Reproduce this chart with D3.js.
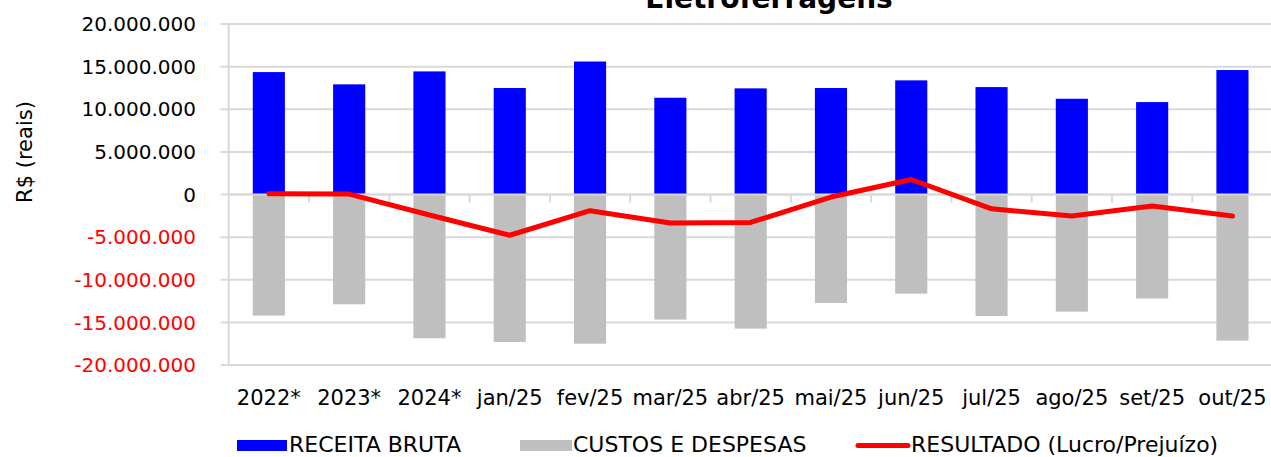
<!DOCTYPE html>
<html>
<head>
<meta charset="utf-8">
<script src="https://cdn.jsdelivr.net/npm/d3@7"></script>
<style>
  body { margin: 0; background: #fff; }
  svg { display: block; font-family: "DejaVu Sans", sans-serif; }
</style>
</head>
<body>
<div id="vis"></div>
<script>
// data (R$)
var categories = ["2022*", "2023*", "2024*", "jan/25", "fev/25", "mar/25", "abr/25",
                  "mai/25", "jun/25", "jul/25", "ago/25", "set/25", "out/25"];
var receita = [14360000, 12920000, 14440000, 12490000, 15600000, 11350000, 12450000,
               12490000, 13390000, 12600000, 11230000, 10840000, 14600000];
var custos = [-14200000, -12880000, -16860000, -17300000, -17500000, -14670000, -15730000,
              -12720000, -11630000, -14250000, -13740000, -12200000, -17140000];
var resultado = [100000, 50000, -2400000, -4780000, -1900000, -3350000, -3270000,
                 -300000, 1760000, -1680000, -2520000, -1360000, -2530000];
var yTicks = [20000000, 15000000, 10000000, 5000000, 0, -5000000, -10000000, -15000000, -20000000];

var w = 1271, h = 457;
var plotLeft = 228.7, plotRight = 1272.6, plotTop = 24, plotBottom = 365;

var svg = d3.select("#vis").append("svg")
    .attr("width", w)
    .attr("height", h);

var x = d3.scaleBand()
    .domain(categories)
    .range([plotLeft, plotRight])
    .paddingInner(0)
    .paddingOuter(0);

var y = d3.scaleLinear()
    .domain([-20000000, 20000000])
    .range([plotBottom, plotTop]);

var br = d3.formatLocale({decimal: ",", thousands: ".", grouping: [3], currency: ["R$", ""], minus: "-"});
var fmt = br.format(",d");

// gridlines
svg.append("g")
    .selectAll("line")
    .data(yTicks)
    .enter()
    .append("line")
    .attr("x1", plotLeft - 8)
    .attr("x2", w)
    .attr("y1", function(d) { return y(d); })
    .attr("y2", function(d) { return y(d); })
    .attr("stroke", "#d9d9d9")
    .attr("stroke-width", 2);

// vertical axis line
svg.append("line")
    .attr("x1", plotLeft).attr("x2", plotLeft)
    .attr("y1", y(20000000)).attr("y2", y(-20000000))
    .attr("stroke", "#d9d9d9")
    .attr("stroke-width", 2);

// y tick labels
svg.append("g")
    .selectAll("text")
    .data(yTicks)
    .enter()
    .append("text")
    .attr("x", 196)
    .attr("y", function(d) { return y(d); })
    .attr("dy", "0.36em")
    .attr("text-anchor", "end")
    .attr("font-size", "20px")
    .attr("fill", function(d) { return d < 0 ? "#ff0000" : "#000"; })
    .text(function(d) { return fmt(d); });

var bw = x.bandwidth() * 0.4;

// receita bars
svg.append("g")
    .selectAll("rect")
    .data(receita)
    .enter()
    .append("rect")
    .attr("x", function(d, i) { return x(categories[i]) + (x.bandwidth() - bw) / 2; })
    .attr("y", function(d) { return y(d); })
    .attr("width", bw)
    .attr("height", function(d) { return y(0) - y(d); })
    .attr("fill", "#0000ff");

// custos bars
svg.append("g")
    .selectAll("rect")
    .data(custos)
    .enter()
    .append("rect")
    .attr("x", function(d, i) { return x(categories[i]) + (x.bandwidth() - bw) / 2; })
    .attr("y", y(0))
    .attr("width", bw)
    .attr("height", function(d) { return y(d) - y(0); })
    .attr("fill", "#bfbfbf");

// zero axis line with category ticks
svg.append("line")
    .attr("x1", plotLeft).attr("x2", w)
    .attr("y1", y(0)).attr("y2", y(0))
    .attr("stroke", "#d9d9d9")
    .attr("stroke-width", 2);

svg.append("g")
    .selectAll("line")
    .data(categories.slice(1))
    .enter()
    .append("line")
    .attr("x1", function(d) { return x(d); })
    .attr("x2", function(d) { return x(d); })
    .attr("y1", y(0))
    .attr("y2", y(0) + 8)
    .attr("stroke", "#d9d9d9")
    .attr("stroke-width", 2);

// resultado line
var line = d3.line()
    .x(function(d, i) { return x(categories[i]) + x.bandwidth() / 2; })
    .y(function(d) { return y(d); });

svg.append("path")
    .datum(resultado)
    .attr("d", line)
    .attr("fill", "none")
    .attr("stroke", "#ff0000")
    .attr("stroke-width", 5)
    .attr("stroke-linecap", "round")
    .attr("stroke-linejoin", "round");

// x labels
svg.append("g")
    .selectAll("text")
    .data(categories)
    .enter()
    .append("text")
    .attr("x", function(d) { return x(d) + x.bandwidth() / 2; })
    .attr("y", 405)
    .attr("text-anchor", "middle")
    .attr("font-size", "21px")
    .attr("fill", "#000")
    .text(function(d) { return d; });

// title (clipped by top edge, as in the source)
svg.append("text")
    .attr("x", 769)
    .attr("y", 8)
    .attr("text-anchor", "middle")
    .attr("font-size", "28px")
    .attr("font-weight", "bold")
    .attr("fill", "#000")
    .text("Eletroferragens");

// y axis title
svg.append("text")
    .attr("transform", "translate(32,152) rotate(-90)")
    .attr("text-anchor", "middle")
    .attr("font-size", "21px")
    .attr("fill", "#000")
    .text("R$ (reais)");

// legend
var legend = svg.append("g").attr("font-size", "22px");
legend.append("rect").attr("x", 237).attr("y", 440).attr("width", 50).attr("height", 11).attr("fill", "#0000ff");
legend.append("text").attr("x", 289).attr("y", 452).text("RECEITA BRUTA");
legend.append("rect").attr("x", 520).attr("y", 440).attr("width", 52).attr("height", 11).attr("fill", "#bfbfbf");
legend.append("text").attr("x", 573).attr("y", 452).text("CUSTOS E DESPESAS");
legend.append("line").attr("x1", 858).attr("x2", 908).attr("y1", 445.5).attr("y2", 445.5)
    .attr("stroke", "#ff0000").attr("stroke-width", 5).attr("stroke-linecap", "round");
legend.append("text").attr("x", 911).attr("y", 452).text("RESULTADO (Lucro/Prejuízo)");
</script>
</body>
</html>
